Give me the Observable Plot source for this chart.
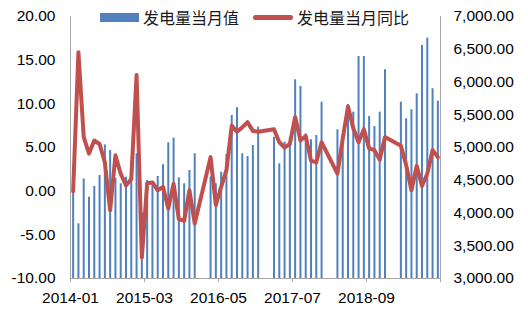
<!DOCTYPE html>
<html><head><meta charset="utf-8">
<script src="https://cdn.jsdelivr.net/npm/d3@7"></script>
<script src="https://cdn.jsdelivr.net/npm/@observablehq/plot@0.6"></script>
<style>
body{margin:0;background:#fff;}
#wrap{position:relative;width:528px;height:314px;}
.lg{position:absolute;font-family:"Noto Sans CJK SC",sans-serif;font-size:16px;line-height:16px;color:#1a1a1a;white-space:nowrap;}
.sw{position:absolute;}
</style></head><body>
<div id="wrap">
  <div class="sw" style="left:100px;top:13px;width:39px;height:9px;background:#4F81BD"></div>
  <div class="lg" style="left:143px;top:9px">发电量当月值</div>
  <div class="sw" style="left:253px;top:15px;width:40px;height:5px;border-radius:3px;background:#C0504D"></div>
  <div class="lg" style="left:297px;top:9px">发电量当月同比</div>
</div>
<script>
const months = [
  "2014-01","2014-02","2014-03","2014-04","2014-05","2014-06","2014-07","2014-08","2014-09","2014-10","2014-11","2014-12",
  "2015-01","2015-02","2015-03","2015-04","2015-05","2015-06","2015-07","2015-08","2015-09","2015-10","2015-11","2015-12",
  "2016-03","2016-04","2016-05","2016-06","2016-07","2016-08","2016-09","2016-10","2016-11","2016-12",
  "2017-03","2017-04","2017-05","2017-06","2017-07","2017-08","2017-09","2017-10","2017-11","2017-12",
  "2018-03","2018-04","2018-05","2018-06","2018-07","2018-08","2018-09","2018-10","2018-11","2018-12",
  "2019-03","2019-04","2019-05","2019-06","2019-07","2019-08","2019-09","2019-10"
];
const generation = [
  4318, 3835, 4520, 4241, 4405, 4573, 5040, 4955, 4530, 4446, 4547, 4560,
  4904, 4000, 4497, 4446, 4557, 4736, 5072, 5142, 4537, 4446, 4649, 4904,
  4550, 4446, 4623, 4893, 5489, 5606, 4904, 4863, 5031, 5311,
  5158, 4751, 5082, 5158, 6034, 5932, 5209, 5120, 5184, 5692,
  5270, 5107, 5657, 5540, 6390, 6390, 5474, 5321, 5540, 6187,
  5692, 5439, 5576, 5820, 6558, 6669, 5897, 5707
];
const yoy = [
  0.0, 15.9, 6.2, 4.3, 5.8, 5.4, 3.3, -2.2, 4.1, 2.0, 0.65, 1.4,
  13.3, -7.6, 0.9, 1.0, 0.1, 0.5, -2.0, 0.85, -3.2, -3.4, 0.1, -3.7,
  3.9, -1.6, 0.5, 2.4, 7.5, 6.8, 7.3, 7.9, 6.9, 6.8,
  7.1, 5.6, 5.0, 5.4, 8.5, 5.8, 6.3, 3.5, 3.3, 5.6,
  2.0, 6.0, 9.7, 7.2, 5.6, 7.1, 4.9, 4.7, 3.6, 6.2,
  5.2, 3.0, 0.1, 2.9, 0.6, 2.0, 4.7, 3.9
];
const xTickLabels = ["2014-01","2015-03","2016-05","2017-07","2018-09"];
const leftTicks = [-10, -5, 0, 5, 10, 15, 20];
const rightTicks = [3000, 3500, 4000, 4500, 5000, 5500, 6000, 6500, 7000];

const idx = m => { const [y, mo] = m.split("-").map(Number); return (y - 2014) * 12 + mo - 1; };
const toLeft = d3.scaleLinear([3000, 7000], [-10, 20]);
const data = months.map((m, i) => ({m, x: idx(m) + 0.5, gen: generation[i], yoy: yoy[i]}));
const tickPos = xTickLabels.map(idx);
const axisGray = "#a6a6a6";

const chart = Plot.plot({
  width: 528, height: 314,
  marginLeft: 70, marginRight: 88, marginTop: 16, marginBottom: 36,
  style: {fontFamily: "Arial, 'Liberation Sans', sans-serif", fontSize: "15.5px", color: "#000", background: "transparent"},
  x: {domain: [0, 70], axis: null, label: null},
  y: {domain: [-10, 20], axis: null, label: null},
  marks: [
    Plot.ruleX(data, {x: "x", y1: -10, y2: d => toLeft(d.gen), stroke: "#4F81BD", strokeWidth: 2}),
    Plot.line(data, {x: "x", y: "yoy", stroke: "#C0504D", strokeWidth: 4, strokeLinejoin: "round", strokeLinecap: "round"}),
    Plot.ruleX([0, 70], {stroke: axisGray}),
    Plot.ruleY([-10], {stroke: axisGray}),
    Plot.axisY({ticks: leftTicks, tickFormat: d => d.toFixed(2), tickSize: 0, tickPadding: 15, label: null}),
    Plot.axisY({anchor: "right", ticks: rightTicks.map(toLeft), tickFormat: d => d3.format(",.2f")(Math.round(toLeft.invert(d))), tickSize: 0, tickPadding: 13, label: null}),
    Plot.axisX({ticks: [...tickPos, 70], tickFormat: d => d === 70 ? "" : xTickLabels[tickPos.indexOf(d)], tickSize: 4, tickPadding: 9, stroke: axisGray, label: null})
  ]
});
chart.style.position = "absolute";
chart.style.left = "0";
chart.style.top = "0";
const wrap = document.getElementById("wrap");
wrap.insertBefore(chart, wrap.firstChild);
</script>
</body></html>
